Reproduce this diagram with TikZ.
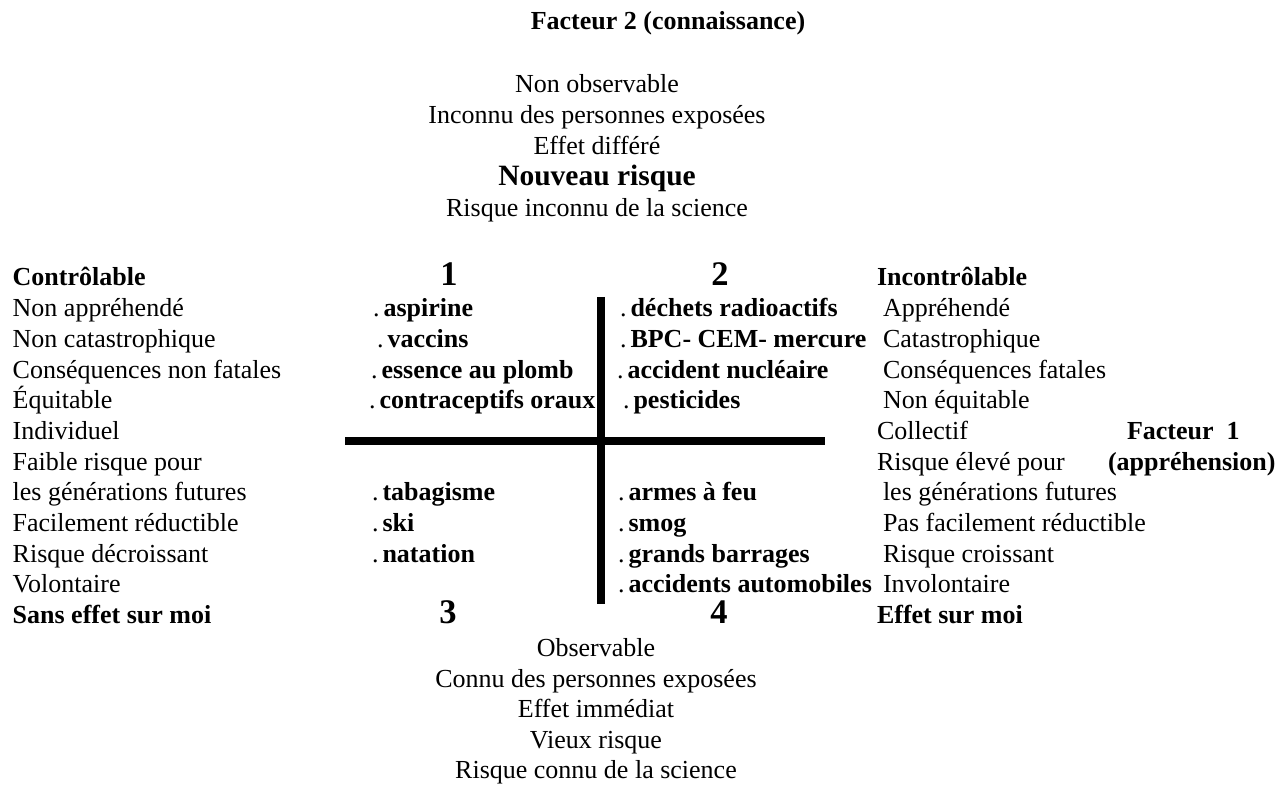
\documentclass[tikz,border=0pt]{standalone}
\usepackage{fontspec}
\setmainfont{Liberation Serif}
\newcommand{\itm}[1]{.\hspace{4pt}\textbf{#1}}
\begin{document}
\begin{tikzpicture}[x=1pt,y=-1pt,
  txt/.style={inner sep=0pt,outer sep=0pt,anchor=base west,font=\fontsize{26}{30}\selectfont},
  ctr/.style={txt,anchor=base},
  hdr/.style={txt,font=\fontsize{26}{30}\selectfont\bfseries},
  big/.style={ctr,font=\fontsize{29.5}{34}\selectfont\bfseries},
  num/.style={inner sep=0pt,outer sep=0pt,anchor=base,font=\fontsize{34.5}{40}\selectfont\bfseries},
  axisline/.style={line width=8pt}]
\useasboundingbox (0,0) rectangle (1277,786);

% top block
\node[ctr,font=\fontsize{26}{30}\selectfont\bfseries] (f2) at (668,30) {Facteur 2 (connaissance)};
\node[ctr] (t1) at (597,93) {Non observable};
\node[ctr] (t2) at (597,123.5) {Inconnu des personnes exposées};
\node[ctr] (t3) at (597,155) {Effet différé};
\node[big] (t4) at (597,186) {Nouveau risque};
\node[ctr] (t5) at (597,216.5) {Risque inconnu de la science};

% left column
\node[hdr] (l0) at (12.7,286) {Contrôlable};
\node[txt] (l1) at (12.7,316.7) {Non appréhendé};
\node[txt] (l2) at (12.7,347.3) {Non catastrophique};
\node[txt] (l3) at (12.7,378) {Conséquences non fatales};
\node[txt] (l4) at (12.7,408.7) {Équitable};
\node[txt] (l5) at (12.7,439.3) {Individuel};
\node[txt] (l6) at (12.7,470) {Faible risque pour};
\node[txt] (l7) at (12.7,500.7) {les générations futures};
\node[txt] (l8) at (12.7,531.3) {Facilement réductible};
\node[txt] (l9) at (12.7,562) {Risque décroissant};
\node[txt] (l10) at (12.7,592.7) {Volontaire};
\node[hdr] (l11) at (12.7,623.3) {Sans effet sur moi};

% quadrant numbers
\node[num] (n1) at (449,286) {1};
\node[num] (n2) at (720,286) {2};
\node[num] (n3) at (448,623.3) {3};
\node[num] (n4) at (719,623.3) {4};

% quadrant 1 and 3 items
\node[txt] (a1) at (373,316.7) {\itm{aspirine}};
\node[txt] (a2) at (377,347.3) {\itm{vaccins}};
\node[txt] (a3) at (371,378) {\itm{essence au plomb}};
\node[txt] (a4) at (369,408.7) {\itm{contraceptifs oraux}};
\node[txt] (a7) at (372,500.7) {\itm{tabagisme}};
\node[txt] (a8) at (372,531.3) {\itm{ski}};
\node[txt] (a9) at (372,562) {\itm{natation}};

% quadrant 2 and 4 items
\node[txt] (b1) at (620,316.7) {\itm{déchets radioactifs}};
\node[txt] (b2) at (620,347.3) {\itm{BPC- CEM- mercure}};
\node[txt] (b3) at (617,378) {\itm{accident nucléaire}};
\node[txt] (b4) at (623,408.7) {\itm{pesticides}};
\node[txt] (b7) at (618,500.7) {\itm{armes à feu}};
\node[txt] (b8) at (618,531.3) {\itm{smog}};
\node[txt] (b9) at (618,562) {\itm{grands barrages}};
\node[txt] (b10) at (618,592.7) {\itm{accidents automobiles}};

% right column
\node[hdr] (r0) at (877,286) {Incontrôlable};
\node[txt] (r1) at (883,316.7) {Appréhendé};
\node[txt] (r2) at (883,347.3) {Catastrophique};
\node[txt] (r3) at (883,378) {Conséquences fatales};
\node[txt] (r4) at (883,408.7) {Non équitable};
\node[txt] (r5) at (877,439.3) {Collectif};
\node[txt] (r6) at (877,470) {Risque élevé pour};
\node[txt] (r7) at (883,500.7) {les générations futures};
\node[txt] (r8) at (883,531.3) {Pas facilement réductible};
\node[txt] (r9) at (883,562) {Risque croissant};
\node[txt] (r10) at (883,592.7) {Involontaire};
\node[hdr] (r11) at (877,623.3) {Effet sur moi};

% factor 1 label
\node[hdr] (f1a) at (1127,439.3) {Facteur\ \ 1};
\node[hdr] (f1b) at (1108,470) {(appréhension)};

% bottom block
\node[ctr] (u1) at (596,656) {Observable};
\node[ctr] (u2) at (596,687) {Connu des personnes exposées};
\node[ctr] (u3) at (596,717.5) {Effet immédiat};
\node[ctr] (u4) at (596,748) {Vieux risque};
\node[ctr] (u5) at (596,778.5) {Risque connu de la science};

% axes
\coordinate (vt) at (601,297);
\coordinate (vb) at (601,604);
\coordinate (hl) at (345,441);
\coordinate (hr) at (825,441);
\draw[axisline] (vt) -- (vb);
\draw[axisline] (hl) -- (hr);
\end{tikzpicture}
\end{document}
